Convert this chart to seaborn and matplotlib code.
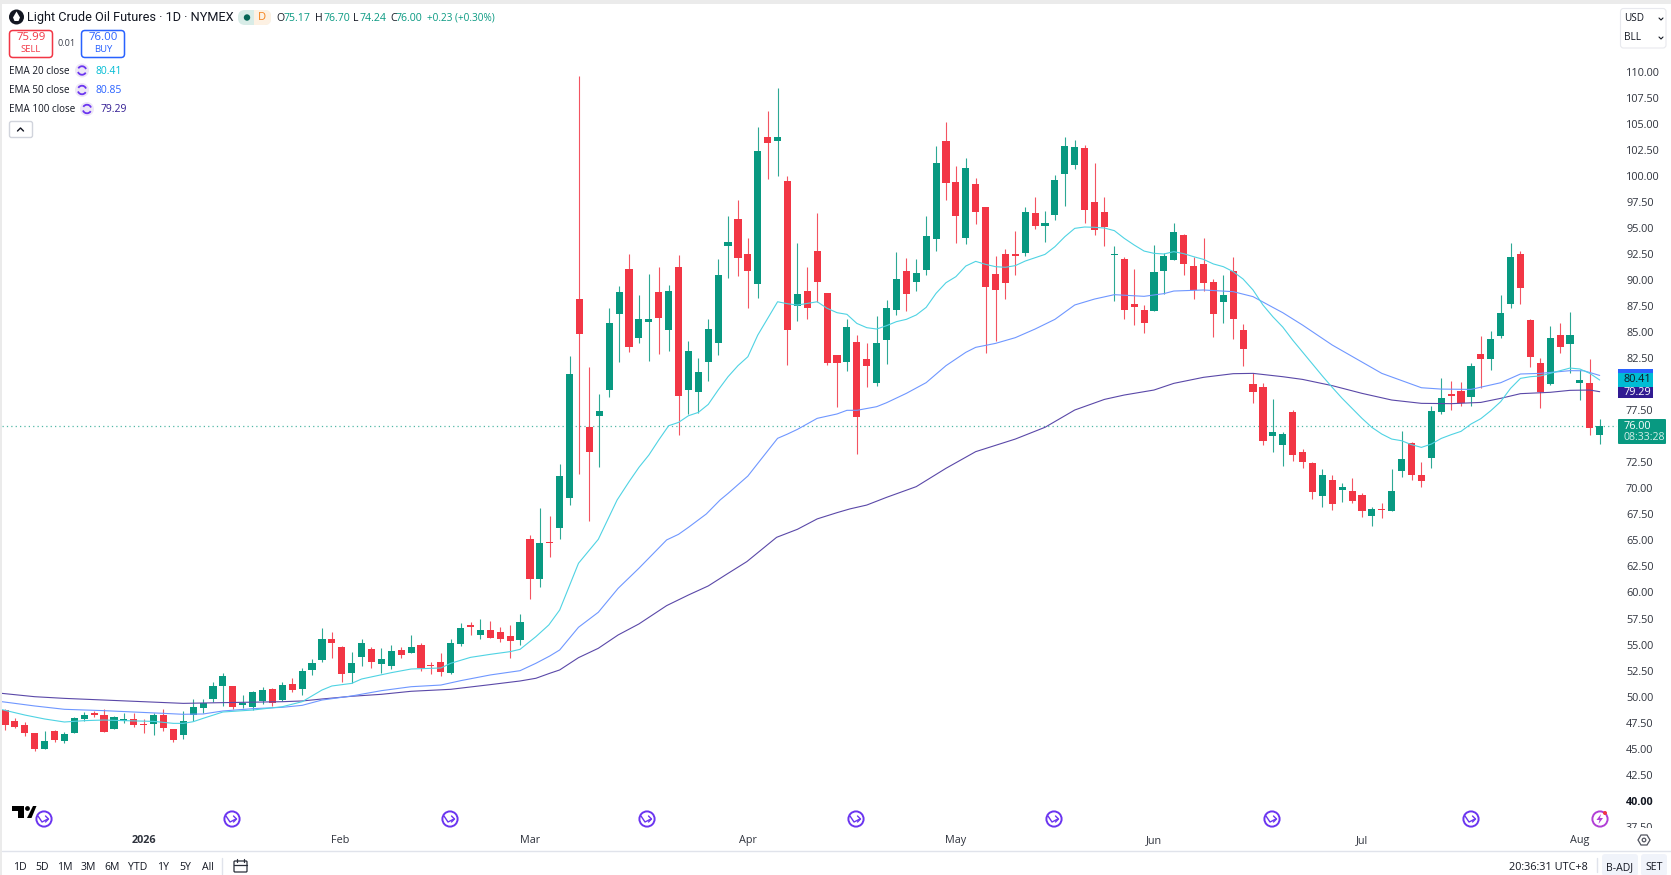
import pandas as pd
import matplotlib
matplotlib.use("Agg")
import matplotlib.pyplot as plt
import seaborn as sns
from matplotlib.patches import Circle, Rectangle, FancyBboxPatch, Polygon, Arc

OUTPUT_IMAGE = "out.png"

# ----- candles, one value per daily bar -----
opens = [48.71,47.66,47.24,46.47,45.00,46.73,45.74,46.54,47.82,48.39,
         48.26,46.92,47.69,47.88,47.34,47.37,48.23,46.86,46.31,48.26,
         48.91,49.80,50.99,51.02,49.19,48.97,49.58,50.70,49.67,51.24,
         50.73,52.59,53.52,55.57,54.80,52.30,53.84,54.57,53.16,52.97,
         54.48,54.22,54.96,53.04,53.29,52.27,55.05,56.85,55.95,56.40,
         56.17,55.79,55.44,65.11,61.30,64.85,66.23,69.11,88.16,75.86,
         76.95,79.42,86.78,91.07,84.48,86.01,88.86,85.18,91.30,79.48,
         79.29,82.11,84.00,93.31,95.84,92.51,89.63,103.75,103.37,99.53,
         87.55,88.99,92.77,88.77,82.84,82.17,84.06,82.46,80.12,84.25,
         87.17,90.88,89.86,90.95,93.96,103.37,99.43,94.02,99.24,97.00,
         90.60,92.52,92.52,92.61,96.45,95.24,96.26,100.23,101.10,102.70,
         97.51,96.55,92.39,92.00,87.71,87.14,87.01,90.92,91.94,94.31,
         91.36,91.56,89.83,87.94,90.85,85.22,80.03,79.71,75.03,74.20,
         77.34,73.49,72.47,69.27,70.80,69.81,69.78,69.33,67.35,67.99,
         67.86,71.67,74.36,71.25,72.95,77.30,79.07,79.32,78.81,82.91,
         82.43,84.64,87.74,92.51,86.17,82.01,80.02,84.70,83.90,80.12,
         80.15,75.17]
highs = [48.78,47.94,47.56,46.54,46.73,46.79,46.63,48.01,48.52,48.65,
         48.81,48.14,48.39,48.46,47.88,48.39,48.81,46.92,48.65,49.74,
         49.80,51.40,52.27,51.05,50.12,50.57,50.95,50.86,51.40,51.79,
         52.72,53.61,56.59,56.21,54.86,54.28,55.57,54.73,54.67,54.96,
         54.80,55.92,55.18,53.32,54.16,55.57,57.04,57.17,57.42,57.23,
         56.72,56.85,57.94,65.49,68.09,67.35,72.31,82.72,109.61,81.63,
         79.03,87.30,89.44,92.51,88.54,90.59,91.30,89.50,92.45,84.16,
         82.52,86.24,92.07,96.16,97.70,94.05,104.75,106.28,108.46,99.97,
         93.54,91.23,96.45,88.77,82.84,86.24,84.70,83.93,86.56,88.09,
         92.71,92.10,92.00,96.13,102.89,105.20,100.97,101.71,99.82,97.00,
         92.32,92.96,94.73,97.06,97.99,96.68,100.14,103.76,103.47,102.95,
         101.23,97.99,93.28,92.20,91.07,87.59,93.38,92.64,95.53,94.44,
         92.26,94.05,90.15,90.47,92.23,85.79,81.05,80.16,78.56,75.41,
         77.53,73.75,72.53,71.86,71.28,70.48,70.96,69.52,68.18,68.56,
         71.83,75.48,74.42,72.53,77.91,80.60,80.31,80.22,82.08,84.64,
         85.09,88.61,93.54,92.83,86.24,82.49,85.60,85.92,86.94,81.37,
         82.40,76.70]
lows = [46.79,46.95,46.22,44.74,45.00,45.64,45.51,46.54,47.69,48.07,
        46.60,46.86,47.50,47.11,46.47,46.28,46.73,45.64,45.90,47.62,
        48.39,49.48,49.10,48.84,48.91,48.71,49.29,49.10,49.55,50.44,
        50.15,52.11,53.32,53.71,51.40,51.27,52.94,52.75,52.27,52.65,
        53.71,54.22,52.46,52.20,51.98,52.20,54.86,55.95,55.50,55.63,
        55.28,53.71,54.93,59.35,60.56,63.41,65.14,68.43,71.35,66.90,
        72.02,78.75,82.17,83.10,83.93,82.27,82.91,83.23,75.16,77.18,
        77.27,80.35,82.84,90.24,90.40,87.36,88.32,99.72,100.01,81.88,
        86.11,86.30,87.93,81.88,77.78,81.31,73.30,79.77,79.87,81.95,
        86.62,87.01,88.93,90.53,92.80,97.74,93.61,93.48,95.40,83.04,
        84.16,88.16,90.47,92.36,94.92,93.70,95.78,97.16,100.68,95.53,
        94.31,93.32,88.00,86.30,85.70,84.96,87.01,88.71,91.94,90.47,
        88.23,89.00,84.54,85.92,84.32,81.79,78.23,74.14,73.53,72.15,
        72.63,71.92,69.01,68.24,67.92,68.72,68.56,67.28,66.42,67.19,
        67.86,71.12,70.80,70.10,71.99,77.18,77.53,77.94,77.94,79.67,
        81.37,84.48,87.33,87.68,81.63,77.75,79.93,83.00,81.11,78.49,
        75.16,74.24]
closes = [47.27,47.11,46.54,45.00,45.70,45.83,46.41,47.94,48.26,48.23,
          46.60,48.01,47.85,47.30,47.24,48.23,46.98,45.83,47.62,49.03,
          49.35,51.02,51.95,49.03,49.39,50.44,50.63,49.35,51.11,50.67,
          52.43,53.26,55.50,55.18,52.17,53.26,55.18,53.29,53.64,54.41,
          54.00,54.73,52.78,52.91,52.36,55.18,56.56,56.65,56.40,55.66,
          55.50,55.31,57.17,61.30,64.73,64.76,71.19,80.99,84.86,73.53,
          77.40,85.85,88.86,83.58,86.30,86.24,86.33,88.99,78.90,83.16,
          81.18,85.31,90.47,93.70,92.10,90.88,102.38,103.18,103.75,85.18,
          88.67,87.33,89.79,82.04,82.04,85.47,76.86,81.72,84.00,87.33,
          90.15,88.64,90.66,94.25,101.23,99.34,96.20,100.75,96.58,89.35,
          89.09,89.73,92.36,96.55,95.24,95.46,99.63,102.89,102.76,96.78,
          94.85,95.11,92.48,87.17,87.39,85.89,90.79,92.32,94.63,91.56,
          89.03,89.76,86.72,88.61,86.27,83.42,79.29,74.59,75.42,75.22,
          73.17,72.50,69.68,71.25,68.50,70.10,68.79,67.86,67.99,67.89,
          69.78,72.85,71.32,70.74,77.46,78.68,78.91,78.20,81.76,82.43,
          84.38,86.81,92.23,89.28,82.59,79.26,84.45,83.55,84.70,80.38,
          75.77,76.00]

# ----- moving averages at these bars -----
ema20_bars = [0.7,3,5,7,9,11,13,16,18,19,20,21,23,26,29,31,33,34,36,37,40,42,45,46,48,50,52,53,54.6,55.9,57,58.9,60.9,62.8,
              64,65,66,67,68,69,70,71,72,73,74,75,76,77,78,79,80,81,82,83,84,85,86,87,88,89,90,91,92,93,94,95,96,97,98,99,
              100,101,102,103,104,105,106,107,108,109,110,111,112,113,114,115,116,117,118,119,120,121,122,123,124,125,126,127,128,129,
              130,131,132,133,134,135,136,137,138,139,140,141,142,143,144,145,146,147,148,149,150,151,152,153,154,155,156,157,158,159,160,161,162]
ema20_vals = [48.75,48.23,47.85,47.56,47.69,47.75,47.69,47.62,47.43,47.43,47.59,47.91,48.52,48.71,49.03,49.51,50.63,51.02,51.27,51.69,52.30,52.65,52.75,53.20,53.77,54.06,54.32,54.54,55.76,56.88,58.32,62.81,65.11,68.89,
              70.64,72.02,73.20,74.65,76.02,76.34,76.98,77.30,78.07,79.45,80.73,81.79,82.65,84.73,86.33,87.93,87.74,87.61,87.77,87.93,87.30,86.88,86.72,85.85,85.44,85.31,85.63,86.02,86.24,86.66,87.39,88.74,89.76,90.34,91.36,91.81,
              91.52,91.30,91.24,91.40,91.84,92.16,92.48,93.22,94.18,94.98,95.11,95.08,95.01,94.76,94.02,93.38,92.80,92.58,92.52,92.74,92.55,92.26,92.00,91.56,91.30,90.82,90.11,89.06,87.62,86.49,
              85.50,84.25,83.10,81.95,80.80,79.70,78.65,77.69,76.73,75.86,75.22,74.74,74.58,74.20,73.94,74.26,74.80,75.16,75.48,76.18,76.70,77.46,78.33,79.61,80.57,80.73,80.80,81.05,81.31,81.56,81.47,81.05,80.41]

ema50_bars = [0.7,4,7,11,14,17,19,21,23,26,29,31,33,36,39,42,45,47,50,53,54.6,56,57,58.9,60.9,62.9,65,67.8,69,70,71.8,73.2,74,76,77,79,80,81,83,85,86,87,89,90,92,94,96,98,99,101,103,105,107,109,111,113,116,118,119,122,125,127,129,130,132,135,140,144,146,149,152,154,156,159,160.4,162]
ema50_vals = [49.51,49.10,48.78,48.65,48.52,48.39,48.30,48.33,48.62,48.84,48.97,49.16,49.67,50.06,50.57,50.95,51.11,51.53,52.08,52.49,53.20,53.90,54.48,56.66,58.10,60.40,62.33,65.05,65.59,66.26,67.54,68.89,69.52,71.19,72.40,74.81,75.22,75.67,76.73,77.15,77.50,77.50,77.85,78.23,79.13,80.16,81.79,83.07,83.55,83.93,84.48,85.31,86.24,87.62,88.19,88.61,88.45,88.71,88.96,89.06,88.90,88.42,87.39,86.88,85.69,83.77,81.05,79.67,79.54,79.51,80.15,80.99,81.05,81.31,81.30,80.85]

ema100_bars = [0.7,4,7,11,14,19,23,29,31,33,36,39,42,46,50,53,54.6,56,57,58.9,60.9,62.9,65,67.8,70,72,73.9,75.9,78.9,81,83,85,86.3,88,90,93,96,99,103,106,109,112,114,117,119,122,125,127,130,132,135,138,141,144,147,150,152,154,157,159,161,162]
ema100_vals = [50.31,49.99,49.83,49.67,49.55,49.35,49.42,49.51,49.58,49.77,50.03,50.22,50.51,50.70,51.15,51.50,51.76,52.24,52.56,53.74,54.64,55.92,56.98,58.74,59.76,60.63,61.78,62.97,65.30,66.07,67.07,67.67,68.03,68.40,69.14,70.17,71.93,73.53,74.74,75.87,77.53,78.55,78.97,79.45,80.09,80.67,81.02,81.05,80.73,80.47,79.87,79.13,78.49,78.17,78.14,78.26,78.65,79.10,79.23,79.42,79.45,79.29]

# ----- axis labels -----
price_ticks = [37.5,40,42.5,45,47.5,50,52.5,55,57.5,60,62.5,65,67.5,70,72.5,77.5,82.5,85,87.5,90,92.5,95,97.5,100,102.5,105,107.5,110]
month_bars = [15,34.8,54,76,97,117,138,160]
month_labels = ["2026","Feb","Mar","Apr","May","Jun","Jul","Aug"]
range_labels = ["1D","5D","1M","3M","6M","YTD","1Y","5Y","All"]
range_x = [19.5,42,65,88,112,138,163,185,208]
event_x = [44,232,450,647,856,1054,1272,1471]

# ----- colours -----
UP = "#089981"
DOWN = "#f23645"
C20 = "#4fd3e3"
C50 = "#6f97ff"
C100 = "#5a48a8"
INK = "#131722"
PURPLE = "#6b35f0"

W, H = 1671, 875
# pixel geometry of the pane
BAR0_X, BAR_STEP = 5.0, 9.905
PRICE_Y110, PX_PER_USD = 72.0, 10.41
PANE = (2, 1617, 4, 828)


def bar_at(px):
    return (px - BAR0_X) / BAR_STEP + 1


def price_at(py):
    return 110 - (py - PRICE_Y110) / PX_PER_USD


sns.set_theme(style="white")
plt.rcParams["font.family"] = ["Open Sans", "DejaVu Sans"]

fig = plt.figure(figsize=(W / 100, H / 100), dpi=100, facecolor="white")
l, r, t, b = PANE
ax = fig.add_axes([l / W, 1 - b / H, (r - l) / W, (b - t) / H])

df = pd.DataFrame({"bar": range(1, len(opens) + 1), "open": opens, "high": highs, "low": lows, "close": closes})
df["color"] = [UP if c >= o else DOWN for o, c in zip(df["open"], df["close"])]

ax.axhline(76.0, color=UP, ls=(0, (1, 2.5)), lw=0.9, alpha=0.7, zorder=1)

ax.vlines(df["bar"], df["low"], df["high"], colors=df["color"], lw=0.8, alpha=0.85, zorder=2)
ax.bar(df["bar"], (df["close"] - df["open"]).abs(), bottom=df[["open", "close"]].min(axis=1),
       width=0.72, color=df["color"], linewidth=0, zorder=3)

for bars, vals, col in [(ema100_bars, ema100_vals, C100), (ema50_bars, ema50_vals, C50), (ema20_bars, ema20_vals, C20)]:
    sns.lineplot(x=bars, y=vals, ax=ax, color=col, lw=0.8, estimator=None, sort=False, zorder=4)

ax.set_xlim(bar_at(l), bar_at(r))
ax.set_ylim(price_at(b), price_at(t))
ax.set_xticks([])
ax.set_xlabel("")
ax.set_ylabel("")
ax.yaxis.tick_right()
ax.set_yticks(price_ticks)
ax.set_yticklabels([f"{p:.2f}" for p in price_ticks], fontsize=7.8, color="#2f333d")
ax.tick_params(axis="y", length=0, pad=6.5)
for lab, p in zip(ax.get_yticklabels(), price_ticks):
    if p == 40:
        lab.set_fontweight("bold")
        lab.set_color(INK)
sns.despine(ax=ax, left=True, bottom=True, right=True, top=True)

# date strip under the pane
strip = fig.add_axes([l / W, 1 - 851 / H, (r - l) / W, (851 - b) / H], facecolor="white")
strip.set_xlim(ax.get_xlim())
strip.set_yticks([])
strip.set_xticks(month_bars)
strip.set_xticklabels(month_labels, fontsize=7.8, color="#2f333d")
strip.tick_params(axis="x", length=0, direction="in", pad=-11.5)
strip.get_xticklabels()[0].set_fontweight("bold")
sns.despine(ax=strip, left=True, bottom=True, right=True, top=True)

# everything that is screen furniture goes on a pixel overlay
ui = fig.add_axes([0, 0, 1, 1], facecolor="none")
ui.set_xlim(0, W)
ui.set_ylim(H, 0)
ui.axis("off")


def txt(x, y, s, color=INK, size=7.8, ha="left", weight="normal", family=None):
    return ui.text(x, y, s, color=color, fontsize=size, ha=ha, va="center", fontweight=weight, family=family)


def box(x0, y0, x1, y1, fc="white", ec="none", lw=1.0, rad=0.0):
    if rad:
        p = FancyBboxPatch((x0 + rad, y0 + rad), x1 - x0 - 2 * rad, y1 - y0 - 2 * rad,
                           boxstyle=f"round,pad={rad},rounding_size={rad}", fc=fc, ec=ec, lw=lw)
    else:
        p = Rectangle((x0, y0), x1 - x0, y1 - y0, fc=fc, ec=ec, lw=lw)
    ui.add_patch(p)


box(0, 0, W, 4, fc="#ebebeb")
box(0, 0, 2, H, fc="#ebebeb")
box(r + 1, b, W, 851, fc="white")
ui.plot([2, W], [851, 851], color="#e0e3eb", lw=1)

# header
ui.add_patch(Circle((16.5, 17), 7.5, fc="#131722", ec="none"))
ui.add_patch(Polygon([(16.5, 11.5), (20, 17.5), (18.5, 21), (14.5, 21), (13, 17.5)], fc="white", ec="none"))
txt(27, 18, "Light Crude Oil Futures · 1D · NYMEX", size=9.15, family=["Roboto", "DejaVu Sans"])
box(238, 10, 271, 25, fc="#d8ece7", rad=7)
box(254, 10, 271, 25, fc="#fdf1e3", rad=6)
box(254, 10, 260, 25, fc="#fdf1e3")
ui.add_patch(Circle((247, 17.5), 3.2, fc="#056656", ec="none"))
txt(262, 18, "D", color="#f57f17", size=8, ha="center")
for lx, letter, vx, val in [(276.5, "O", 284, "75.17"), (315, "H", 323, "76.70"), (353, "L", 359, "74.24"), (390, "C", 396, "76.00")]:
    txt(lx, 18.5, letter, size=7.6)
    txt(vx, 18.5, val, color=UP, size=7.6)
txt(427, 18.5, "+0.23 (+0.30%)", color=UP, size=7.2)

# sell / buy buttons
box(9.5, 30.5, 52.5, 57.5, ec=DOWN, lw=1.1, rad=3.5)
txt(31, 38, "75.99", color=DOWN, size=8.2, ha="center")
txt(31, 49, "SELL", color=DOWN, size=6.8, ha="center")
txt(67, 44, "0.01", color="#3a3e4a", size=6.5, ha="center")
box(81.5, 30.5, 124.5, 57.5, ec="#2962ff", lw=1.1, rad=3.5)
txt(103, 38, "76.00", color="#2962ff", size=8.2, ha="center")
txt(103, 49, "BUY", color="#2962ff", size=6.8, ha="center")

# indicator legend
for y, name, ix, vx, val, col in [(71, "EMA 20 close", 82, 95.5, "80.41", "#00bcd4"),
                                  (90.5, "EMA 50 close", 82, 95.5, "80.85", "#2962ff"),
                                  (109.5, "EMA 100 close", 87, 101, "79.29", "#311b92")]:
    txt(9, y, name, size=7.1)
    ui.add_patch(Circle((ix, y - 0.5), 7, fc="#ede7f6", ec="none"))
    ui.add_patch(Arc((ix, y - 0.5), 8.5, 8.5, theta1=30, theta2=160, ec=PURPLE, lw=1.3))
    ui.add_patch(Arc((ix, y - 0.5), 8.5, 8.5, theta1=210, theta2=340, ec=PURPLE, lw=1.3))
    txt(vx, y, val, color=col, size=7.5)
box(9.5, 121.5, 32.5, 137.5, ec="#d1d4dc", lw=1, rad=2)
ui.plot([17.5, 20.5, 23.5], [131, 128, 131], color=INK, lw=1)

# currency / unit selector
box(1620.5, 8.5, 1666, 48, ec="#e8e9ee", lw=0.8, rad=3)
txt(1624, 18.5, "USD", size=7.2)
txt(1624, 37.5, "BLL", size=7.2)
for y in (19, 38):
    ui.plot([1659, 1661, 1663], [y - 1, y + 1, y - 1], color=INK, lw=0.8)

# last value tags on the price scale
box(1618, 369, 1653, 376, fc="#2962ff")
box(1618, 373, 1653, 387, fc="#00bcd4")
box(1618, 387, 1653, 398, fc="#311b92")
txt(1624, 380, "80.41", size=7.8)
txt(1624, 392.5, "79.29", color="white", size=7.8)
box(1618, 419, 1666, 444, fc=UP, rad=1)
txt(1624, 426.5, "76.00", color="white", size=7.8)
txt(1624, 437.5, "08:33:28", color="#d4eee8", size=7.6)

# event markers along the bottom of the pane
for x in event_x:
    ui.add_patch(Circle((x, 819), 7.6, fc="white", ec=PURPLE, lw=1.4))
    ui.plot([x - 6, x - 2, x + 4], [816, 822, 819], color=PURPLE, lw=1.0)
    ui.plot([x + 1.5, x + 4.5, x + 1.5], [816, 819, 822], color=PURPLE, lw=1.0)
ui.add_patch(Circle((1600, 819), 7.6, fc="white", ec="#b13fd6", lw=1.4))
ui.add_patch(Polygon([(1601, 814), (1596.5, 820), (1599.5, 820), (1598.5, 824), (1603, 818), (1600, 818)], fc="#b13fd6", ec="none"))
ui.add_patch(Circle((1605, 813), 2, fc=DOWN, ec="none"))

# watermark logo
ui.add_patch(Polygon([(12, 806), (24, 806), (24, 818), (18, 818), (18, 811), (12, 811)], fc="black", ec="none"))
ui.add_patch(Circle((27.5, 808.5), 2.4, fc="black", ec="none"))
ui.add_patch(Polygon([(33, 806), (36.5, 806), (31.5, 818), (27, 818)], fc="black", ec="none"))

# gear
ui.add_patch(Polygon([(1638, 840), (1641, 835), (1647, 835), (1650, 840), (1647, 845), (1641, 845)], fc="white", ec="#50535e", lw=0.9))
ui.add_patch(Circle((1644, 840), 1.8, fc="white", ec="#50535e", lw=0.9))

# range bar
for x, s in zip(range_x, range_labels):
    txt(x, 868, s, size=7.6, ha="center")
ui.plot([222, 222], [858, 874], color="#e0e3eb", lw=1)
box(234, 861, 247, 872, fc="white", ec="#2a2e39", lw=0.9, rad=1)
ui.plot([234, 247], [864.5, 864.5], color="#2a2e39", lw=0.9)
ui.plot([237, 237], [859, 862], color="#2a2e39", lw=0.9)
ui.plot([244, 244], [859, 862], color="#2a2e39", lw=0.9)
txt(1588, 868, "20:36:31 UTC+8", size=7.8, ha="right")
ui.plot([1597, 1597], [858, 872], color="#e0e3eb", lw=1)
box(1602, 854, 1638, 876, fc="#f0f3fa", rad=3)
txt(1620, 868, "B-ADJ", size=7.6, ha="center")
box(1641, 854, 1667, 876, fc="#f0f3fa", rad=3)
txt(1654, 868, "SET", size=7.6, ha="center")

fig.savefig(OUTPUT_IMAGE, dpi=100)
